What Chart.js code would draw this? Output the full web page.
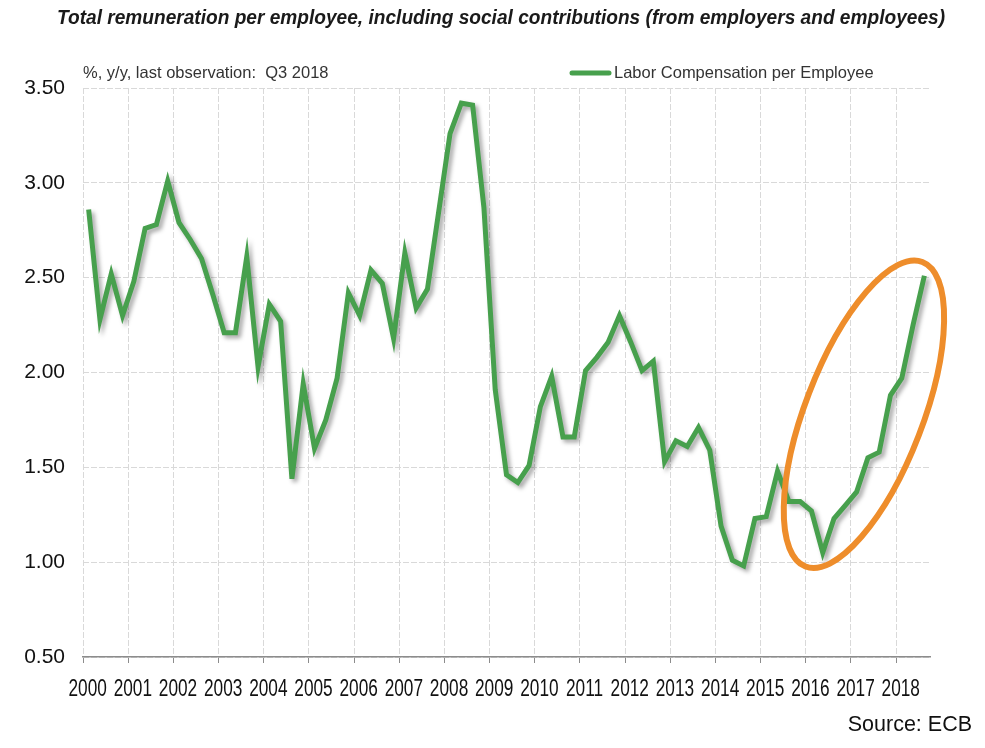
<!DOCTYPE html>
<html>
<head>
<meta charset="utf-8">
<script src="https://cdn.jsdelivr.net/npm/chart.js@4.4.1/dist/chart.umd.min.js"></script>
<style>
  html, body { margin: 0; padding: 0; background: #fff; }
  canvas { display: block; }
</style>
</head>
<body>
<canvas id="chart" width="985" height="748"></canvas>
<script>
// ? Labor compensation per employee, % y/y, quarterly (ECB)
const years = [2000, 2001, 2002, 2003, 2004, 2005, 2006, 2007, 2008, 2009,
  2010, 2011, 2012, 2013, 2014, 2015, 2016, 2017, 2018];
const quarterNames = ["Q1", "Q2", "Q3", "Q4"];

const compValues = [
  2.86, 2.28, 2.52, 2.30,   // 2000
  2.48, 2.76, 2.78, 3.01,   // 2001
  2.79, 2.70, 2.60, 2.41,   // 2002
  2.21, 2.21, 2.61, 2.03,   // 2003
  2.36, 2.27, 1.44, 1.94,   // 2004
  1.60, 1.75, 1.97, 2.42,   // 2005
  2.30, 2.54, 2.47, 2.18,   // 2006
  2.63, 2.34, 2.44, 2.85,   // 2007
  3.26, 3.42, 3.41, 2.87,   // 2008
  1.91, 1.46, 1.42, 1.51,   // 2009
  1.82, 1.98, 1.66, 1.66,   // 2010
  2.01, 2.08, 2.16, 2.30,   // 2011
  2.16, 2.01, 2.06, 1.53,   // 2012
  1.64, 1.61, 1.71, 1.59,   // 2013
  1.19, 1.01, 0.98, 1.23,   // 2014
  1.24, 1.48, 1.32, 1.32,   // 2015
  1.27, 1.05, 1.23, 1.30,   // 2016
  1.37, 1.55, 1.58, 1.88,   // 2017
  1.97, 2.25, 2.51          // 2018 (last obs. Q3)
];

// one label per quarter, cut at the last observation
const quarters = [];
years.forEach((y) => quarterNames.forEach((q) => quarters.push(y + q)));
quarters.length = compValues.length;

const yMin = 0.5;
const yMax = 3.5;
const yStep = 0.5;

const seriesName = "Labor Compensation per Employee";
const titleText = "Total remuneration per employee, including social contributions (from employers and employees)";
const unitText = "%, y/y, last observation:  Q3 2018";
const sourceText = "Source: ECB";

// ? orange ring round the latest upswing (center in data units, radii in y units)
const ring = { at: 68.65, value: 1.78, major: 0.86, minor: 0.31, angle: -69 };

const GREEN = "#47a04d";
const ORANGE = "#ee8d2b";
const GRID = "#d9d9d9";
const SANS = '"Liberation Sans", Arial, sans-serif';

// draw text squeezed sideways (the source uses a narrow face we don't have)
function narrowText(ctx, text, x, y, squeeze) {
  ctx.save();
  ctx.translate(x, y);
  ctx.scale(squeeze, 1);
  ctx.fillText(text, 0, 0);
  ctx.restore();
}

const shadowLine = {
  id: "shadowLine",
  beforeDatasetDraw(chart) {
    const ctx = chart.ctx;
    ctx.save();
    ctx.shadowColor = "rgba(0,0,0,0.35)";
    ctx.shadowBlur = 4;
    ctx.shadowOffsetX = 3;
    ctx.shadowOffsetY = 3;
  },
  afterDatasetDraw(chart) {
    chart.ctx.restore();
  },
};

const ringPlugin = {
  id: "ring",
  afterDatasetsDraw(chart) {
    const { ctx, scales: { x, y } } = chart;
    const cx = x.getPixelForValue(ring.at);
    const cy = y.getPixelForValue(ring.value);
    const unit = y.getPixelForValue(0) - y.getPixelForValue(1);
    ctx.save();
    ctx.beginPath();
    ctx.ellipse(cx, cy, ring.major * unit, ring.minor * unit, (ring.angle * Math.PI) / 180, 0, Math.PI * 2);
    ctx.strokeStyle = ORANGE;
    ctx.lineWidth = 6;
    ctx.stroke();
    ctx.restore();
  },
};

const texts = {
  id: "texts",
  afterDraw(chart) {
    const ctx = chart.ctx;
    const area = chart.chartArea;
    const xs = chart.scales.x;
    const ds = chart.data.datasets[0];
    ctx.save();
    ctx.textBaseline = "middle";

    // title, fitted to the width it has in the source
    ctx.fillStyle = "#1a1a1a";
    ctx.textAlign = "center";
    ctx.font = "italic bold 21px " + SANS;
    const tw = ctx.measureText(titleText).width;
    narrowText(ctx, titleText, 501, 18, Math.min(1, 888 / tw));

    // year labels under the Q1 slots
    ctx.fillStyle = "#111";
    ctx.font = "23px " + SANS;
    xs.ticks.forEach((t, i) => {
      if (i % 4 !== 0) return;
      narrowText(ctx, xs.getLabelForValue(t.value).slice(0, 4), xs.getPixelForTick(i) - 1, 690, 0.75);
    });

    ctx.fillStyle = "#333";
    ctx.textAlign = "left";
    ctx.font = "16.5px " + SANS;
    ctx.fillText(unitText, area.left, 73);

    // legend
    ctx.strokeStyle = ds.borderColor;
    ctx.lineWidth = 5;
    ctx.lineCap = "round";
    ctx.beginPath();
    ctx.moveTo(572, 73);
    ctx.lineTo(609, 73);
    ctx.stroke();
    ctx.fillText(ds.label, 614, 73);

    ctx.fillStyle = "#111";
    ctx.textAlign = "right";
    ctx.font = "21.5px " + SANS;
    ctx.fillText(sourceText, 972, 725);
    ctx.restore();
  },
};

const ctxComp = document.getElementById("chart").getContext("2d");
const chartComp = new Chart(ctxComp, {
  type: "line",
  data: {
    labels: quarters,
    datasets: [
      {
        label: seriesName,
        data: compValues,
        borderColor: GREEN,
        backgroundColor: GREEN,
        borderWidth: 5,
        pointRadius: 0,
        tension: 0,
        fill: false,
      },
    ],
  },
  options: {
    responsive: false,
    animation: false,
    layout: { padding: { top: 88, right: 55, bottom: 31, left: 0 } },
    plugins: {
      legend: { display: false },
      title: { display: false },
      tooltip: { enabled: false },
    },
    scales: {
      x: {
        offset: true,
        afterFit(scale) {
          scale.height = 60;
        },
        grid: {
          offset: true,
          color: (c) => (c.index % 4 === 0 ? GRID : "transparent"),
          tickColor: (c) => (c.index % 4 === 0 ? "#8c8c8c" : "transparent"),
          tickLength: 6,
          lineWidth: 1,
        },
        border: { display: true, color: "#8c8c8c", width: 1.5, dash: [6, 2] },
        ticks: { display: false, autoSkip: false, maxRotation: 0, minRotation: 0 },
      },
      y: {
        min: yMin,
        max: yMax,
        afterFit(scale) {
          scale.width = 83;
        },
        grid: { color: GRID, lineWidth: 1, drawTicks: false },
        border: { display: false, dash: [6, 2] },
        ticks: {
          stepSize: yStep,
          padding: 18,
          color: "#111",
          font: { family: SANS, size: 21 },
          callback: (v) => v.toFixed(2),
        },
      },
    },
  },
  plugins: [shadowLine, ringPlugin, texts],
});
</script>
</body>
</html>
